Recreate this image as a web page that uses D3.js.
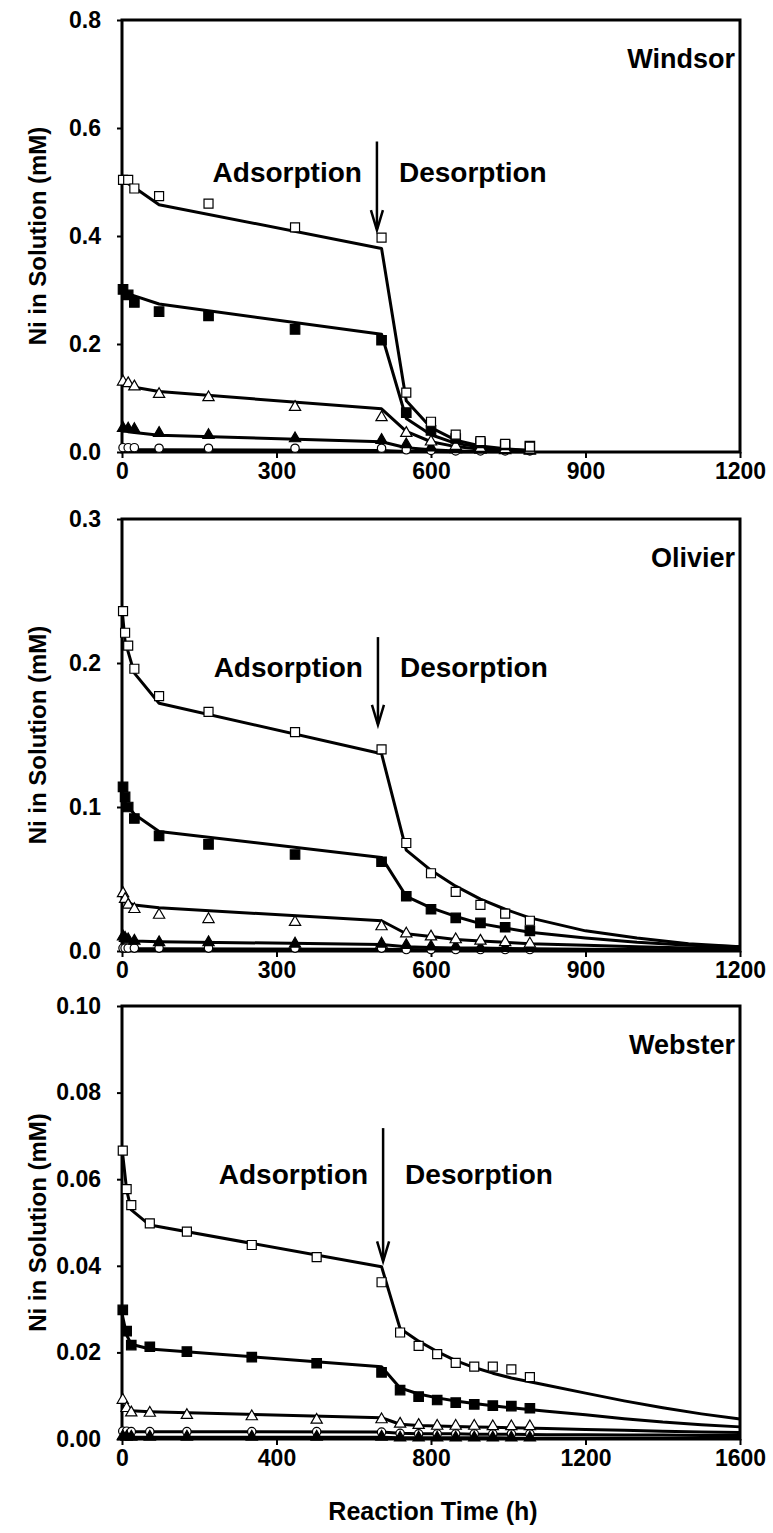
<!DOCTYPE html>
<html>
<head>
<meta charset="utf-8">
<script src="https://cdn.jsdelivr.net/npm/d3@7/dist/d3.min.js"></script>
<style>
    body { margin: 0; background: #fff; }
    svg text { font-family: "Liberation Sans", Arial, sans-serif; font-weight: bold; fill: #000; }
</style>
</head>
<body>
<svg id="chart" width="773" height="1533"></svg>
<script>
// ---- Windsor ----
const windsorTime = [2, 12, 24, 72, 168, 336, 504, 552, 600, 648, 696, 744, 792];
const windsorOpenSq = [0.504, 0.504, 0.488, 0.474, 0.460, 0.416, 0.397, 0.110, 0.056, 0.032, 0.020, 0.015, 0.010];
const windsorFilledSq = [0.301, 0.291, 0.277, 0.260, 0.252, 0.227, 0.207, 0.073, 0.040, 0.025, 0.017, 0.013, 0.011];
const windsorOpenTri = [0.130, 0.127, 0.121, 0.107, 0.101, 0.083, 0.064, 0.035, 0.019, 0.011, 0.007, 0.005, 0.004];
const windsorFilledTri = [0.044, 0.043, 0.042, 0.035, 0.031, 0.025, 0.022, 0.014, 0.008, 0.005, 0.004, 0.003, 0.002];
const windsorOpenCirc = [0.008, 0.008, 0.008, 0.007, 0.007, 0.007, 0.007, 0.004, 0.003, 0.002, 0.002, 0.002, 0.002];

const windsorFitTime = [0, 12, 24, 72, 504, 552, 600, 648, 696, 744, 792];
const windsorFitOpenSq = [0.512, 0.497, 0.490, 0.458, 0.377, 0.095, 0.045, 0.022, 0.011, 0.006, 0.003];
const windsorFitFilledSq = [0.300, 0.293, 0.289, 0.274, 0.218, 0.062, 0.032, 0.016, 0.009, 0.005, 0.003];
const windsorFitOpenTri = [0.128, 0.123, 0.120, 0.112, 0.080, 0.038, 0.019, 0.010, 0.005, 0.003, 0.002];
const windsorFitFilledTri = [0.042, 0.038, 0.036, 0.031, 0.019, 0.008, 0.004, 0.002, 0.001, 0.001, 0.0005];
const windsorFitOpenCirc = [0.004, 0.004, 0.004, 0.004, 0.003, 0.001, 0.0007, 0.0005, 0.0004, 0.0003, 0.0003];

// ---- Olivier ----
const olivierTime = [2, 6, 12, 24, 72, 168, 336, 504, 552, 600, 648, 696, 744, 792];
const olivierOpenSq = [0.236, 0.221, 0.212, 0.196, 0.177, 0.166, 0.152, 0.140, 0.075, 0.054, 0.041, 0.032, 0.026, 0.021];
const olivierFilledSq = [0.114, 0.107, 0.100, 0.092, 0.080, 0.074, 0.067, 0.062, 0.038, 0.029, 0.023, 0.0195, 0.0165, 0.014];
const olivierOpenTri = [0.040, 0.036, 0.032, 0.029, 0.025, 0.022, 0.020, 0.017, 0.012, 0.010, 0.008, 0.007, 0.006, 0.005];
const olivierFilledTri = [0.010, 0.009, 0.008, 0.007, 0.006, 0.006, 0.005, 0.005, 0.004, 0.003, 0.003, 0.002, 0.002, 0.002];
const olivierOpenCirc = [0.002, 0.002, 0.002, 0.002, 0.002, 0.002, 0.002, 0.002, 0.001, 0.001, 0.001, 0.001, 0.001, 0.001];

const olivierFitTime = [0, 6, 24, 72, 504, 552, 600, 648, 696, 744, 792, 900, 1000, 1100, 1200];
const olivierFitOpenSq = [0.238, 0.215, 0.193, 0.172, 0.137, 0.070, 0.056, 0.045, 0.036, 0.029, 0.023, 0.014, 0.009, 0.005, 0.003];
const olivierFitFilledSq = [0.112, 0.103, 0.095, 0.083, 0.065, 0.038, 0.030, 0.024, 0.019, 0.016, 0.013, 0.009, 0.006, 0.004, 0.003];
const olivierFitOpenTri = [0.036, 0.034, 0.032, 0.030, 0.021, 0.012, 0.010, 0.008, 0.007, 0.006, 0.005, 0.004, 0.003, 0.002, 0.002];
const olivierFitFilledTri = [0.008, 0.0075, 0.007, 0.0065, 0.0045, 0.003, 0.0025, 0.002, 0.002, 0.0018, 0.0015, 0.0012, 0.001, 0.0008, 0.0007];
const olivierFitOpenCirc = [0.0015, 0.0015, 0.0015, 0.0015, 0.0013, 0.001, 0.0009, 0.0008, 0.0007, 0.0007, 0.0006, 0.0006, 0.0005, 0.0005, 0.0005];

// ---- Webster ----
const websterTime = [2, 12, 24, 72, 168, 336, 504, 672, 720, 768, 816, 864, 912, 960, 1008, 1056];
const websterOpenSq = [0.0666, 0.0577, 0.0540, 0.0498, 0.0479, 0.0448, 0.0420, 0.0362, 0.0246, 0.0215, 0.0196, 0.0176, 0.0167, 0.0167, 0.0161, 0.0143];
const websterFilledSq = [0.0298, 0.0249, 0.0217, 0.0213, 0.0202, 0.0189, 0.0175, 0.0154, 0.0113, 0.0098, 0.0090, 0.0084, 0.0080, 0.0077, 0.0076, 0.0071];
const websterOpenTri = [0.0090, 0.0071, 0.0061, 0.0060, 0.0055, 0.0052, 0.0044, 0.0045, 0.0035, 0.0032, 0.0030, 0.0030, 0.0030, 0.0029, 0.0029, 0.0029];
const websterFilledTri = [0.0006, 0.0005, 0.0005, 0.0005, 0.0005, 0.0005, 0.0005, 0.0005, 0.0003, 0.0003, 0.0003, 0.0003, 0.0003, 0.0003, 0.0003, 0.0003];
const websterOpenCirc = [0.0018, 0.0018, 0.0017, 0.0017, 0.0017, 0.0017, 0.0017, 0.0016, 0.0013, 0.0012, 0.0012, 0.0012, 0.0012, 0.0012, 0.0012, 0.0012];

const websterFitTime = [0, 12, 24, 72, 672, 720, 768, 816, 864, 912, 960, 1008, 1100, 1200, 1300, 1400, 1500, 1600];
const websterFitOpenSq = [0.0672, 0.0575, 0.0529, 0.0494, 0.0398, 0.0255, 0.0226, 0.0202, 0.0181, 0.0165, 0.0152, 0.0141, 0.0124, 0.0106, 0.0088, 0.0072, 0.0058, 0.0046];
const websterFitFilledSq = [0.0290, 0.0240, 0.0219, 0.0208, 0.0167, 0.0118, 0.0104, 0.0095, 0.0088, 0.0082, 0.0077, 0.0072, 0.0064, 0.0056, 0.0047, 0.0039, 0.0033, 0.0028];
const websterFitOpenTri = [0.0079, 0.0068, 0.0065, 0.0063, 0.0049, 0.0034, 0.0031, 0.0030, 0.0029, 0.0028, 0.0027, 0.0026, 0.0024, 0.0022, 0.0020, 0.0018, 0.0016, 0.0015];
const websterFitFilledTri = [0.0004, 0.0004, 0.0004, 0.0004, 0.0004, 0.0003, 0.0003, 0.0003, 0.0003, 0.0003, 0.0003, 0.0002, 0.0002, 0.0002, 0.0002, 0.0002, 0.0002, 0.0002];
const websterFitOpenCirc = [0.0017, 0.0017, 0.0017, 0.0017, 0.0016, 0.0013, 0.0012, 0.0012, 0.0012, 0.0011, 0.0011, 0.0011, 0.0010, 0.0010, 0.0009, 0.0009, 0.0008, 0.0008];

// ticks
const windsorXTicks = [0, 300, 600, 900, 1200];
const windsorYTicks = [0, 0.2, 0.4, 0.6, 0.8];
const olivierXTicks = [0, 300, 600, 900, 1200];
const olivierYTicks = [0, 0.1, 0.2, 0.3];
const websterXTicks = [0, 400, 800, 1200, 1600];
const websterYTicks = [0, 0.02, 0.04, 0.06, 0.08, 0.10];

const LEFT = 122, RIGHT = 740;

// marker styles
const markers = {
    openSq:    {type: d3.symbolSquare,   size: 81, fill: '#fff'},
    filledSq:  {type: d3.symbolSquare,   size: 90, fill: '#000'},
    openTri:   {type: d3.symbolTriangle, size: 55, fill: '#fff'},
    filledTri: {type: d3.symbolTriangle, size: 55, fill: '#000'},
    openCirc:  {type: d3.symbolCircle,   size: 55, fill: '#fff'}
};

const panels = [
    {
        name: 'Windsor', top: 20, bottom: 452, xMax: 1200, yMax: 0.8,
        xTicks: windsorXTicks, yTicks: windsorYTicks, fmt: d3.format('.1f'),
        time: windsorTime, fitTime: windsorFitTime,
        series: [
            ['openCirc', windsorOpenCirc, windsorFitOpenCirc],
            ['filledTri', windsorFilledTri, windsorFitFilledTri],
            ['openTri', windsorOpenTri, windsorFitOpenTri],
            ['filledSq', windsorFilledSq, windsorFitFilledSq],
            ['openSq', windsorOpenSq, windsorFitOpenSq]
        ],
        arrowT: 495, arrowFrom: 0.575, arrowTo: 0.411, labelY: 0.50
    },
    {
        name: 'Olivier', top: 519, bottom: 951, xMax: 1200, yMax: 0.3,
        xTicks: olivierXTicks, yTicks: olivierYTicks, fmt: d3.format('.1f'),
        time: olivierTime, fitTime: olivierFitTime,
        series: [
            ['openCirc', olivierOpenCirc, olivierFitOpenCirc],
            ['filledTri', olivierFilledTri, olivierFitFilledTri],
            ['openTri', olivierOpenTri, olivierFitOpenTri],
            ['filledSq', olivierFilledSq, olivierFitFilledSq],
            ['openSq', olivierOpenSq, olivierFitOpenSq]
        ],
        arrowT: 497, arrowFrom: 0.218, arrowTo: 0.157, labelY: 0.19
    },
    {
        name: 'Webster', top: 1006, bottom: 1439, xMax: 1600, yMax: 0.1,
        xTicks: websterXTicks, yTicks: websterYTicks, fmt: d3.format('.2f'),
        time: websterTime, fitTime: websterFitTime,
        series: [
            ['openCirc', websterOpenCirc, websterFitOpenCirc],
            ['filledTri', websterFilledTri, websterFitFilledTri],
            ['openTri', websterOpenTri, websterFitOpenTri],
            ['filledSq', websterFilledSq, websterFitFilledSq],
            ['openSq', websterOpenSq, websterFitOpenSq]
        ],
        arrowT: 676, arrowFrom: 0.0718, arrowTo: 0.041, labelY: 0.059
    }
];

const svg = d3.select('#chart');

panels.forEach(p => drawPanel(p));

// x axis title only under the last panel
svg.append('text')
    .attr('x', 433).attr('y', 1520)
    .attr('text-anchor', 'middle')
    .style('font-size', '25px')
    .text('Reaction Time (h)');

function drawPanel(p) {
    let g = svg.append('g');
    let x = d3.scaleLinear().domain([0, p.xMax]).range([LEFT, RIGHT]);
    let y = d3.scaleLinear().domain([0, p.yMax]).range([p.bottom, p.top]);

    // axes
    let yAxis = d3.axisLeft(y).tickValues(p.yTicks).tickSize(5).tickPadding(16).tickFormat(p.fmt);
    let xAxis = d3.axisBottom(x).tickValues(p.xTicks).tickSize(6).tickPadding(5).tickFormat(d3.format('d'));

    let ya = g.append('g').attr('transform', `translate(${LEFT},0)`).call(yAxis);
    let xa = g.append('g').attr('transform', `translate(0,${p.bottom})`).call(xAxis);
    [ya, xa].forEach(a => {
        a.select('.domain').remove();
        a.selectAll('line').attr('stroke', '#000').attr('stroke-width', 2);
        a.selectAll('text').style('font-size', '23px').attr('fill', '#000');
    });

    // frame
    g.append('rect')
        .attr('x', LEFT).attr('y', p.top)
        .attr('width', RIGHT - LEFT).attr('height', p.bottom - p.top)
        .attr('fill', 'none').attr('stroke', '#000').attr('stroke-width', 3);

    // y title
    g.append('text')
        .attr('transform', `translate(46,${(p.top + p.bottom) / 2}) rotate(-90)`)
        .attr('text-anchor', 'middle')
        .style('font-size', '24px')
        .text('Ni in Solution (mM)');

    // panel name
    g.append('text')
        .attr('x', RIGHT - 5).attr('y', p.top + 48)
        .attr('text-anchor', 'end')
        .style('font-size', '27px')
        .text(p.name);

    // model fit lines
    let line = d3.line().x(d => x(d[0])).y(d => y(d[1]));
    p.series.forEach(s => {
        g.append('path')
            .datum(p.fitTime.map((t, i) => [t, s[2][i]]))
            .attr('d', line)
            .attr('fill', 'none')
            .attr('stroke', '#000')
            .attr('stroke-width', 3)
            .attr('stroke-linejoin', 'round');
    });

    // measured points
    p.series.forEach(s => {
        let m = markers[s[0]];
        let sym = d3.symbol().type(m.type).size(m.size);
        g.append('g').selectAll('path')
            .data(p.time.map((t, i) => [t, s[1][i]]))
            .enter().append('path')
            .attr('d', sym)
            .attr('transform', d => `translate(${x(d[0])},${y(d[1])})`)
            .attr('fill', m.fill)
            .attr('stroke', '#000')
            .attr('stroke-width', 1.2);
    });

    // adsorption / desorption arrow
    let ax = x(p.arrowT), y0 = y(p.arrowFrom), y1 = y(p.arrowTo);
    g.append('line')
        .attr('x1', ax).attr('x2', ax).attr('y1', y0).attr('y2', y1 - 1)
        .attr('stroke', '#000').attr('stroke-width', 2.5);
    g.append('path')
        .attr('d', `M${ax - 6},${y1 - 20} L${ax},${y1} L${ax + 6},${y1 - 20}`)
        .attr('fill', 'none').attr('stroke', '#000').attr('stroke-width', 2.5);

    g.append('text')
        .attr('x', ax - 15).attr('y', y(p.labelY))
        .attr('text-anchor', 'end')
        .style('font-size', '28px')
        .text('Adsorption');
    g.append('text')
        .attr('x', ax + 22).attr('y', y(p.labelY))
        .attr('text-anchor', 'start')
        .style('font-size', '28px')
        .text('Desorption');
}
</script>
</body>
</html>
